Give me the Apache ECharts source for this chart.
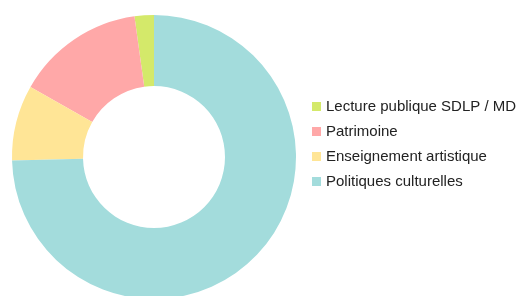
<!DOCTYPE html>
<html>
<head>
<meta charset="utf-8">
<script src="https://cdn.jsdelivr.net/npm/echarts@6/dist/echarts.min.js"></script>
<style>
html, body { margin: 0; padding: 0; background: #fff; }
#chart { width: 520px; height: 296px; }
</style>
</head>
<body>
<div id="chart"></div>
<script>
var categories = ['Lecture publique SDLP / MD', 'Patrimoine', 'Enseignement artistique', 'Politiques culturelles'];
var values = [2.2, 14.6, 8.6, 74.6];
var colors = ['#d4e96a', '#ffa8a8', '#ffe596', '#a3dcdc'];

var myChart = echarts.init(document.getElementById('chart'));
var data = [];
for (var i = 0; i < categories.length; i++) {
    data.push({name: categories[i], value: values[i], itemStyle: {color: colors[i]}});
}
var option = {
    animation: false,
    legend: {
        orient: 'vertical',
        left: 307,
        top: 94,
        itemWidth: 9,
        itemHeight: 9,
        itemGap: 10,
        icon: 'rect',
        textStyle: {
            fontFamily: 'Liberation Sans',
            fontSize: 15,
            color: '#222'
        },
        data: categories
    },
    series: [{
        type: 'pie',
        radius: [71, 142],
        center: [154, 157],
        startAngle: 90,
        clockwise: false,
        label: {show: false},
        labelLine: {show: false},
        data: data
    }]
};
myChart.setOption(option);
</script>
</body>
</html>
